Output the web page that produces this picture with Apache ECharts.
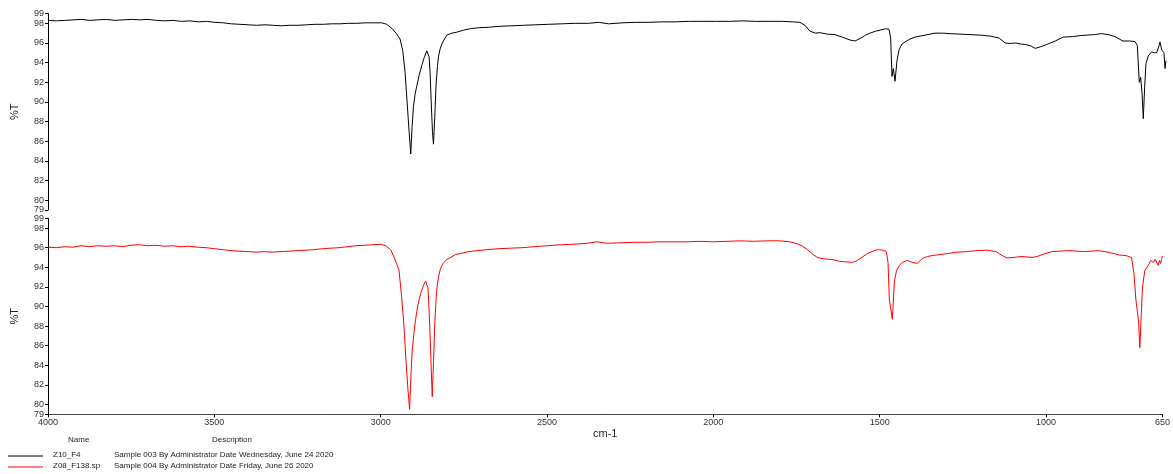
<!DOCTYPE html>
<html>
<head>
<meta charset="utf-8">
<script src="https://cdn.jsdelivr.net/npm/echarts@6/dist/echarts.min.js"></script>
<style>
html,body{margin:0;padding:0;background:#fff;}
#chart{width:1173px;height:474px;}
</style>
</head>
<body>
<div id="chart"></div>
<script>
// Wavenumbers (cm-1) shared by both spectra
const wavenumbers = [
  4000,3975,3950,3925,3900,3875,3850,3825,3800,3775,
  3750,3725,3700,3675,3650,3625,3600,3575,3550,3525,
  3500,3475,3450,3425,3400,3375,3350,3325,3300,3275,
  3250,3225,3200,3175,3150,3125,3100,3075,3050,3025,
  3000,2985,2970,2957,2945,2937,2930,2924,2918,2913,
  2909,2905,2900,2895,2888,2880,2872,2865,2861,2858,
  2855,2852,2848,2845,2841,2837,2833,2830,2825,2820,
  2812,2805,2790,2775,2755,2735,2710,2680,2645,2610,
  2575,2540,2500,2460,2420,2380,2350,2320,2280,2240,
  2200,2160,2120,2080,2040,2000,1960,1920,1880,1840,
  1800,1770,1747,1732,1717,1700,1687,1665,1642,1620,
  1597,1582,1567,1550,1537,1520,1507,1490,1480,1475,
  1471,1467,1462,1456,1450,1441,1432,1417,1402,1387,
  1372,1357,1342,1320,1297,1267,1237,1207,1177,1150,
  1132,1117,1100,1087,1072,1055,1042,1027,1007,982,
  958,928,907,887,865,843,823,803,790,779,
  760,743,736,730,726,722,718,714,710,703,
  693,685,678,672,668,663,659,656,653,650
];
// Z10_F4 (%T), black, top panel
const z10T = [
  98.3,98.25,98.3,98.35,98.4,98.3,98.35,98.4,98.3,98.35,
  98.4,98.35,98.4,98.3,98.25,98.3,98.2,98.25,98.15,98.2,
  98.1,98.05,97.95,97.9,97.85,97.8,97.85,97.8,97.75,97.8,
  97.8,97.85,97.9,97.9,97.95,97.95,98.0,98.0,98.05,98.05,
  98.05,97.9,97.5,97.0,96.4,95.2,93.0,90.0,87.0,84.7,
  87.5,89.5,90.8,91.6,92.7,93.7,94.6,95.2,95.1,94.6,
  93.0,90.2,87.0,85.7,88.5,91.9,93.6,94.6,95.4,95.9,
  96.4,96.8,97.0,97.1,97.3,97.45,97.55,97.6,97.7,97.75,
  97.8,97.85,97.9,97.95,98.0,98.0,98.1,97.95,98.05,98.1,
  98.1,98.15,98.15,98.2,98.2,98.2,98.2,98.25,98.2,98.2,
  98.2,98.15,98.1,97.8,97.2,97.0,97.05,96.9,96.85,96.6,
  96.3,96.2,96.45,96.8,97.0,97.2,97.3,97.45,97.4,96.5,
  92.6,93.4,92.1,94.2,95.3,95.9,96.1,96.4,96.6,96.7,
  96.8,96.9,97.0,97.0,96.95,96.9,96.85,96.8,96.7,96.5,
  96.0,95.95,96.0,95.9,95.85,95.7,95.45,95.6,95.85,96.2,
  96.6,96.65,96.75,96.8,96.85,96.95,96.85,96.65,96.4,96.2,
  96.2,96.15,95.75,92.0,92.5,91.0,88.3,91.5,93.9,94.7,
  95.1,95.0,95.0,95.6,96.1,95.3,95.1,95.0,93.4,94.2
];
// Z08_F138.sp (%T), red, bottom panel
const z08T = [
  96.05,96.0,96.1,96.05,96.2,96.1,96.2,96.15,96.2,96.1,
  96.25,96.3,96.2,96.25,96.15,96.2,96.1,96.15,96.05,96.0,
  95.9,95.8,95.7,95.65,95.6,95.55,95.6,95.55,95.6,95.65,
  95.7,95.75,95.8,95.9,95.95,96.0,96.1,96.2,96.25,96.3,
  96.35,96.2,95.8,94.8,93.7,91.0,88.0,84.5,81.5,79.5,
  83.0,85.6,87.3,88.7,90.2,91.3,92.1,92.6,92.4,91.9,
  90.0,87.5,83.5,80.8,84.5,88.6,91.0,92.2,93.2,93.9,
  94.4,94.7,95.0,95.3,95.45,95.6,95.7,95.8,95.9,95.95,
  96.0,96.1,96.2,96.3,96.35,96.45,96.6,96.45,96.5,96.55,
  96.55,96.6,96.6,96.6,96.65,96.6,96.65,96.7,96.65,96.7,
  96.7,96.6,96.4,96.15,95.8,95.3,95.0,94.85,94.8,94.6,
  94.55,94.5,94.7,95.1,95.4,95.65,95.8,95.75,95.6,94.5,
  90.7,90.9,88.7,92.5,93.6,94.2,94.5,94.7,94.5,94.4,
  94.9,95.1,95.2,95.3,95.4,95.55,95.6,95.7,95.75,95.6,
  95.2,94.95,95.0,95.05,95.1,95.05,95.0,95.1,95.35,95.6,
  95.65,95.7,95.65,95.6,95.65,95.7,95.6,95.45,95.35,95.25,
  95.2,95.0,93.4,90.7,90.9,88.5,85.8,89.0,92.0,93.7,
  94.2,94.7,94.5,94.8,94.8,94.2,94.7,94.4,94.8,95.15
];
const xTickLabels = [4000, 3500, 3000, 2500, 2000, 1500, 1000, 650];
const yTickLabels = [79, 80, 82, 84, 86, 88, 90, 92, 94, 96, 98, 99];
const seriesNames = ['Z10_F4', 'Z08_F138.sp'];
const descriptions = [
  'Sample 003 By Administrator Date Wednesday, June 24 2020',
  'Sample 004 By Administrator Date Friday, June 26 2020'
];

const FONT = 'Liberation Sans, Arial, sans-serif';
const chart = echarts.init(document.getElementById('chart'), null, {renderer: 'canvas'});

function yAxis(gridIndex) {
  return {
    gridIndex, type: 'value', min: 79, max: 99,
    name: '%T', nameLocation: 'middle', nameGap: 28, nameRotate: 90,
    nameTextStyle: {fontFamily: FONT, fontSize: 11, color: '#222'},
    axisLine: {show: true, lineStyle: {color: '#000', width: 1}},
    axisTick: {show: true, length: 3, customValues: yTickLabels, lineStyle: {color: '#000'}},
    axisLabel: {customValues: yTickLabels, fontFamily: FONT, fontSize: 9, color: '#333', margin: 4,
      formatter: v => String(v)},
    splitLine: {show: false}
  };
}

const option = {
  animation: false,
  backgroundColor: '#fff',
  grid: [
    {left: 48, right: 7, top: 13.5, height: 196.5},
    {left: 48, right: 7, top: 218.3, height: 196}
  ],
  xAxis: [
    {gridIndex: 0, type: 'value', min: 650, max: 4000, inverse: true, show: false},
    {
      gridIndex: 1, type: 'value', min: 650, max: 4000, inverse: true,
      name: 'cm-1', nameLocation: 'middle', nameGap: 13,
      nameTextStyle: {fontFamily: FONT, fontSize: 11, color: '#222'},
      axisLine: {show: true, lineStyle: {color: '#444', width: 1}},
      axisTick: {show: true, length: 3, customValues: xTickLabels, lineStyle: {color: '#000'}},
      axisLabel: {customValues: xTickLabels, fontFamily: FONT, fontSize: 9, color: '#333', margin: 4,
        formatter: v => String(v)},
      splitLine: {show: false}
    }
  ],
  yAxis: [yAxis(0), yAxis(1)],
  series: [
    {
      name: seriesNames[0], type: 'line', xAxisIndex: 0, yAxisIndex: 0,
      data: wavenumbers.map((w, i) => [w, z10T[i]]),
      showSymbol: false, lineStyle: {color: '#000', width: 1}, silent: true
    },
    {
      name: seriesNames[1], type: 'line', xAxisIndex: 1, yAxisIndex: 1,
      data: wavenumbers.map((w, i) => [w, z08T[i]]),
      showSymbol: false, lineStyle: {color: '#ff0000', width: 1}, silent: true
    }
  ],
  graphic: [
    {type: 'text', left: 68, top: 436, style: {text: 'Name', font: '8px ' + FONT, fill: '#222'}},
    {type: 'text', left: 212, top: 436, style: {text: 'Description', font: '8px ' + FONT, fill: '#222'}},
    {type: 'line', shape: {x1: 8, y1: 456, x2: 43, y2: 456}, style: {stroke: '#000', lineWidth: 1}},
    {type: 'text', left: 53, top: 451, style: {text: seriesNames[0], font: '8px ' + FONT, fill: '#222'}},
    {type: 'text', left: 114, top: 451, style: {text: descriptions[0], font: '8px ' + FONT, fill: '#222'}},
    {type: 'line', shape: {x1: 8, y1: 467, x2: 43, y2: 467}, style: {stroke: '#ff0000', lineWidth: 1}},
    {type: 'text', left: 53, top: 462, style: {text: seriesNames[1], font: '8px ' + FONT, fill: '#222'}},
    {type: 'text', left: 114, top: 462, style: {text: descriptions[1], font: '8px ' + FONT, fill: '#222'}}
  ]
};
chart.setOption(option);
</script>
</body>
</html>
